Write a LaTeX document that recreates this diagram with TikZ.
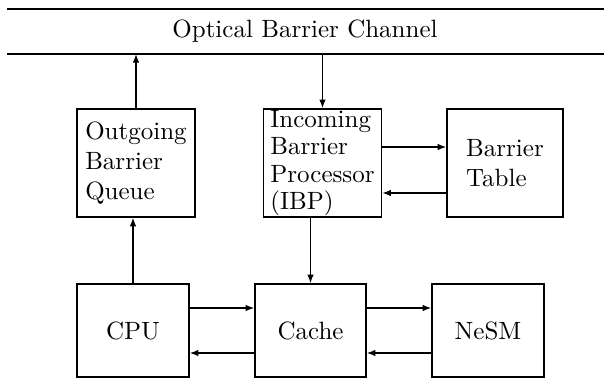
\documentclass[tikz,border=0pt]{standalone}
\usetikzlibrary{arrows.meta}
\tikzset{
  unit/.style={draw, line width=0.65pt, inner sep=0pt, align=left},
  unit/hi/.style={unit, minimum width=47.2pt, minimum height=43.2pt},
  unit/lo/.style={unit, minimum width=44.8pt, minimum height=37.2pt},
  sig/.style={line width=0.5pt, -{Latex[length=3.4pt,width=2.6pt]}},
  bus/.style={line width=0.65pt}
}

\begin{document}
\begin{tikzpicture}[x=0.4pt, y=0.4pt]
  \useasboundingbox (0,0) rectangle (604,381);
\coordinate (chTL) at (7,372);
\coordinate (chTR) at (604,372);
\coordinate (chBL) at (7,327);
\coordinate (chBR) at (604,327);
\draw[bus] (chTL) -- (chTR);
\draw[bus] (chBL) -- (chBR);
\node (chan) at (305,350) {Optical Barrier Channel};
\node[unit/hi] (obq) at (136,218) {Outgoing\\Barrier\\Queue};
\node[unit/hi, font=\fontsize{10}{11}\selectfont] (ibp) at (322.5,218) {Incoming\\Barrier\\Processor\\(IBP)};
\node[unit/hi, minimum width=46.4pt] (tab) at (505,218) {Barrier\\Table};
\node[unit/lo] (cpu) at (133,50.5) {CPU};
\node[unit/lo, minimum width=44.4pt] (cache) at (310.5,50.5) {Cache};
\node[unit/lo] (nesm) at (488,50.5) {NeSM};
\draw[sig] (obq.north) -- (obq.north |- chBL);
\draw[sig] (ibp.north |- chBL) -- (ibp.north);
\draw[sig] ([yshift=6.4pt]ibp.east) -- ([yshift=6.4pt]tab.west);
\draw[sig] ([yshift=-12pt]tab.west) -- ([yshift=-12pt]ibp.east);
\draw[sig] (cpu.north) -- (cpu.north |- obq.south);
\draw[sig] (cache.north |- ibp.south) -- (cache.north);
\draw[sig] ([yshift=9pt]cpu.east) -- ([yshift=9pt]cache.west);
\draw[sig] ([yshift=-9pt]cache.west) -- ([yshift=-9pt]cpu.east);
\draw[sig] ([yshift=9pt]cache.east) -- ([yshift=9pt]nesm.west);
\draw[sig] ([yshift=-9pt]nesm.west) -- ([yshift=-9pt]cache.east);

\end{tikzpicture}
\end{document}
